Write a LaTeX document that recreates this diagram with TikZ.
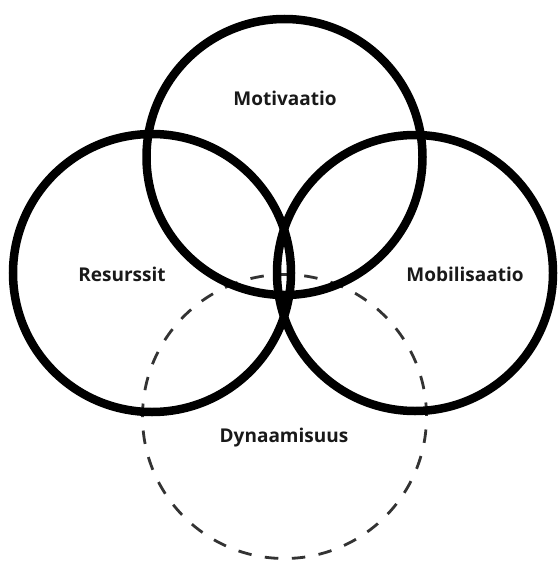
\documentclass[tikz,border=0pt]{standalone}
\usepackage{fontspec}
\setmainfont{Open Sans}

\begin{document}
\begin{tikzpicture}[x=1pt, y=-1pt,
		ring/.style={line width=8.5pt, black},
		dashring/.style={line width=2.8pt, black!80, dash pattern=on 13.5pt off 13.54pt, dash phase=26.5pt},
		venntext/.style={anchor=base, font=\fontsize{19}{22}\selectfont\bfseries, text=black!90}]
		\useasboundingbox (0, 0) rectangle (557, 562);
		\draw[dashring] (284.5, 416.5) circle[radius=142pt];
		\draw[ring] (284.5, 157) circle[radius=138pt];
		\draw[ring] (152, 273) circle[radius=139pt];
		\draw[ring] (415, 273) circle[radius=138pt];
		\node[venntext] (motivaatio) at (285, 105) {Motivaatio};
		\node[venntext] (resurssit) at (122, 281) {Resurssit};
		\node[venntext] (mobilisaatio) at (465, 281) {Mobilisaatio};
		\node[venntext] (dynaamisuus) at (284, 442) {Dynaamisuus};
	\end{tikzpicture}
\end{document}
